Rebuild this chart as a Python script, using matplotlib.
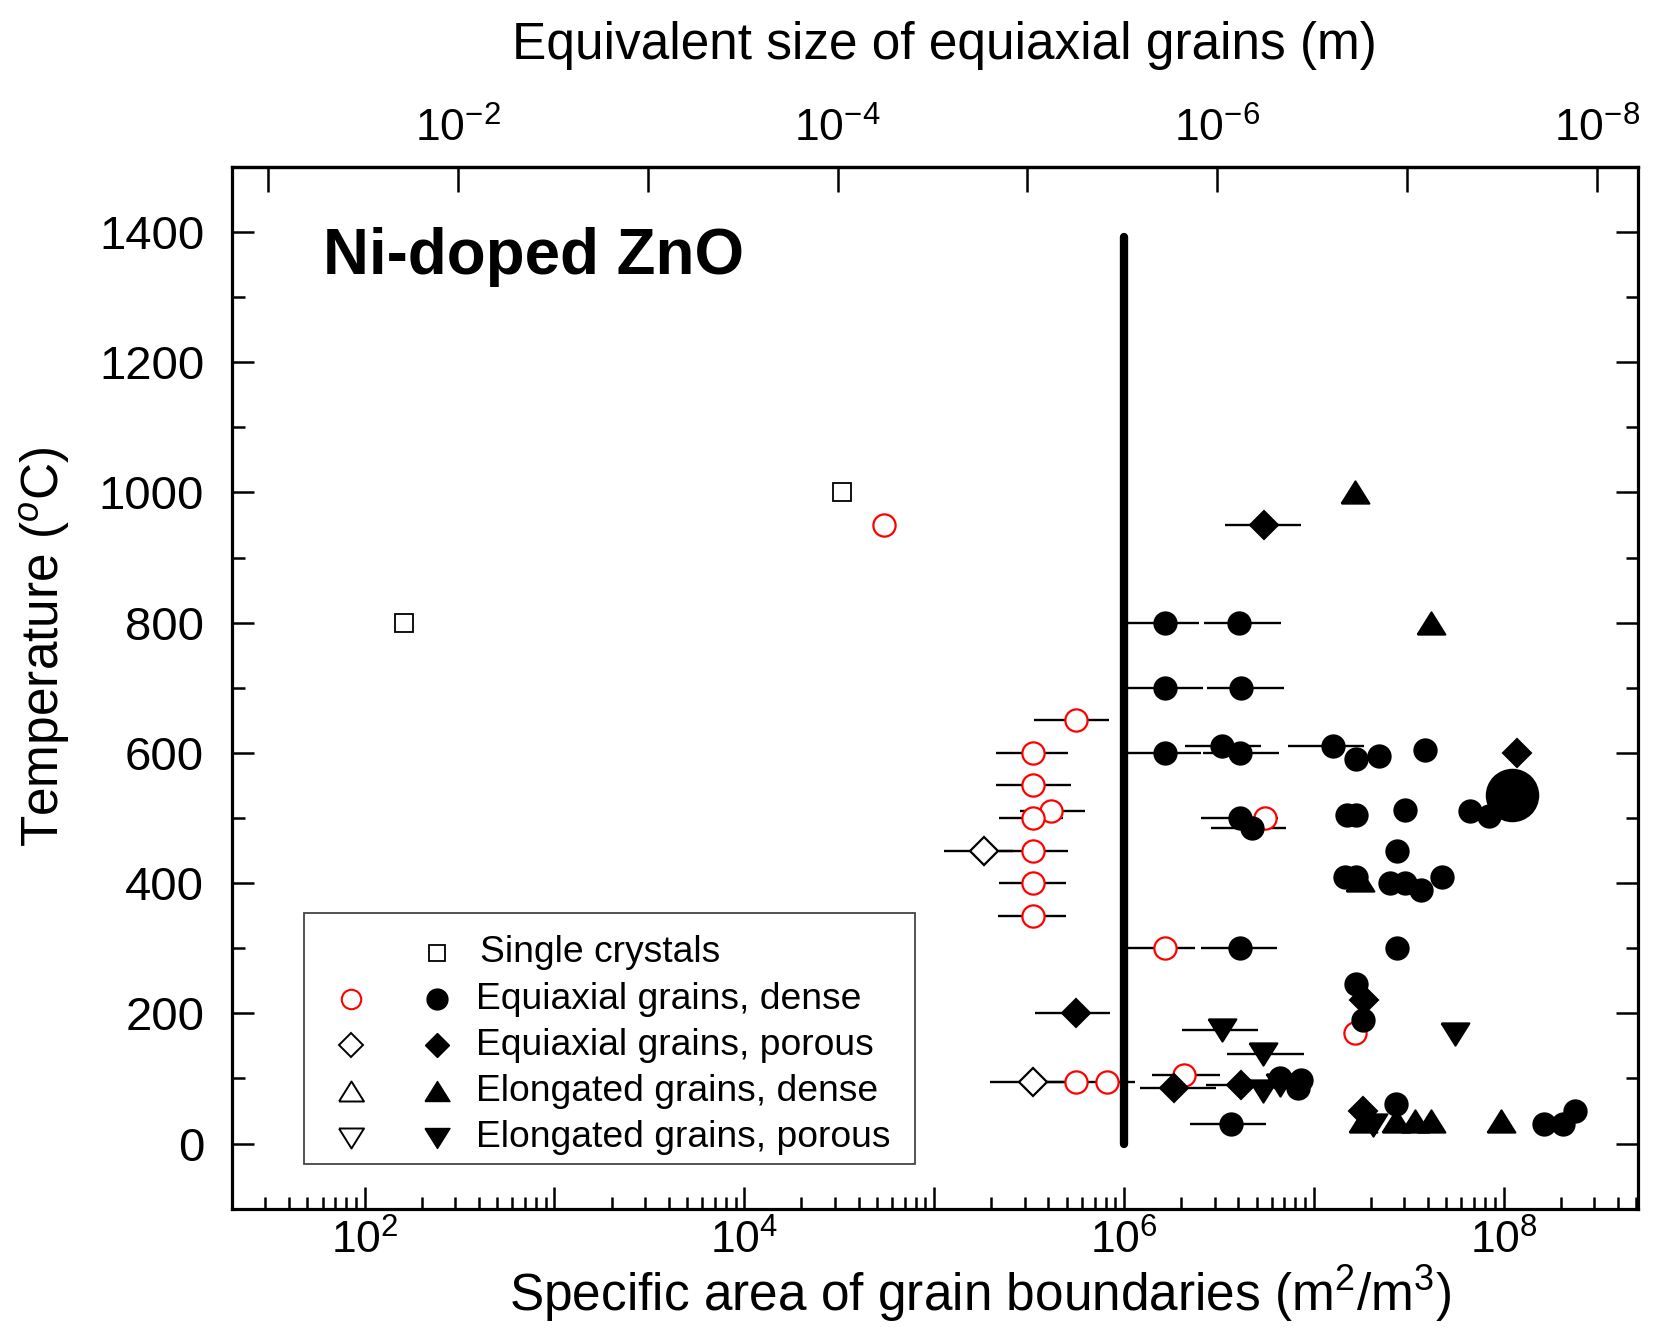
import matplotlib
matplotlib.use("Agg")
import matplotlib.pyplot as plt
import numpy as np
from matplotlib.patches import Rectangle
from matplotlib.ticker import FixedLocator, LogLocator, MultipleLocator, NullFormatter, NullLocator, FuncFormatter

plt.rcParams["font.family"] = ["Liberation Sans", "DejaVu Sans"]
plt.rcParams["mathtext.fontset"] = "custom"
plt.rcParams["mathtext.rm"] = "Liberation Sans"
plt.rcParams["mathtext.it"] = "Liberation Sans:italic"
plt.rcParams["mathtext.bf"] = "Liberation Sans:bold"

# S = specific area (m2/m3), T = temperature (C); lo/hi = error bar ends
single_S = [161, 3.28e4]
single_T = [800, 1000]

red_S = [5.56e5, 3.30e5, 3.30e5, 4.12e5, 3.30e5, 3.30e5, 3.30e5, 3.30e5, 1.64e6, 5.56e5, 8.15e5, 2.07e6]
red_T = [650, 600, 550, 510, 500, 450, 400, 350, 300, 95, 95, 105]
red_lo = [3.34e5, 2.13e5, 2.13e5, 2.85e5, 2.19e5, 2.19e5, 2.19e5, 2.17e5, 1.03e6, 3.74e5, 7.46e5, 1.40e6]
red_hi = [8.30e5, 5.08e5, 5.23e5, 6.22e5, 4.78e5, 5.08e5, 4.98e5, 4.94e5, 2.36e6, 7.46e5, 1.14e6, 3.20e6]
red_nb_S = [5.47e4, 5.52e6, 1.65e7]
red_nb_T = [950, 500, 170]

eqd_S = [1.64e6, 4.03e6, 1.64e6, 4.16e6, 1.64e6, 3.30e6, 4.10e6, 1.27e7, 4.10e6, 4.75e6, 4.10e6, 3.68e6]
eqd_T = [800, 800, 700, 700, 600, 610, 600, 610, 500, 485, 300, 30]
eqd_lo = [1.02e6, 2.64e6, 1.04e6, 2.74e6, 1.03e6, 2.09e6, 2.61e6, 7.31e6, 2.56e6, 2.89e6, 2.54e6, 2.24e6]
eqd_hi = [2.48e6, 6.70e6, 2.61e6, 6.93e6, 2.56e6, 5.25e6, 6.56e6, 1.85e7, 6.47e6, 7.18e6, 6.43e6, 5.62e6]
eqd_nb_S = [1.66e7, 2.20e7, 3.84e7, 6.62e7, 8.34e7, 1.49e7, 1.67e7, 3.01e7, 2.74e7, 1.46e7,
            1.67e7, 2.51e7, 3.02e7, 3.69e7, 4.73e7, 2.74e7, 1.66e7, 1.82e7, 2.72e7, 1.64e8,
            2.05e8, 2.37e8, 6.6e6, 8.3e6, 8.6e6]
eqd_nb_T = [590, 595, 605, 510, 503, 505, 505, 513, 450, 410,
            410, 400, 400, 390, 410, 300, 245, 190, 60, 30,
            30, 50, 100, 85, 97]
big_S = [1.11e8]
big_T = [535]

eqp_S = [5.47e6, 5.56e5, 1.83e6, 4.16e6]
eqp_T = [950, 200, 85, 90]
eqp_lo = [3.40e6, 3.39e5, 1.21e6, 2.69e6]
eqp_hi = [8.61e6, 8.49e5, 3.07e6, 6.31e6]
eqp_nb_S = [1.18e8, 1.85e7, 1.82e7]
eqp_nb_T = [600, 220, 50]

eqp_open_S = [1.83e5, 3.30e5]
eqp_open_T = [450, 95]
eqp_open_lo = [1.13e5, 1.96e5]
eqp_open_hi = [2.61e5, 5.06e5]

eld_S = [1.64e7, 4.13e7, 1.75e7, 1.82e7, 2.72e7, 3.40e7, 4.16e7, 9.73e7]
eld_T = [1000, 800, 405, 35, 35, 35, 35, 35]

elp_S = [3.30e6, 5.40e6]
elp_T = [175, 138]
elp_lo = [2.01e6, 3.51e6]
elp_hi = [5.08e6, 8.85e6]
elp_nb_S = [5.40e6, 6.6e6, 5.52e7, 2.05e7]
elp_nb_T = [80, 90, 168, 28]

legend_labels = ["Single crystals", "Equiaxial grains, dense", "Equiaxial grains, porous",
                 "Elongated grains, dense", "Elongated grains, porous"]

C_SIZE = 3.1  # S = C / d

UP = [(-1, -0.8), (1, -0.8), (0, 0.8), (-1, -0.8)]
DOWN = [(-1, 0.8), (1, 0.8), (0, -0.8), (-1, 0.8)]

fig = plt.figure(figsize=(16.59, 13.42), dpi=100)
ax = fig.add_axes([0.1398, 0.0994, 0.8475, 0.7762])


def bars(S, T, lo, hi):
    S = np.asarray(S, float)
    xerr = [S - np.asarray(lo), np.asarray(hi) - S]
    ax.errorbar(S, T, xerr=xerr, fmt="none", ecolor="black", elinewidth=1.7, capsize=0, zorder=3)


def pts(S, T, marker, ms, mfc, mec, mew=1.5, z=4):
    ax.plot(S, T, ls="none", marker=marker, ms=ms, mfc=mfc, mec=mec, mew=mew, zorder=z)


ax.plot([1e6, 1e6], [0, 1392], color="black", lw=6, solid_capstyle="round", zorder=2)

bars(red_S, red_T, red_lo, red_hi)
bars(eqd_S, eqd_T, eqd_lo, eqd_hi)
bars(eqp_S, eqp_T, eqp_lo, eqp_hi)
bars(eqp_open_S, eqp_open_T, eqp_open_lo, eqp_open_hi)
bars(elp_S, elp_T, elp_lo, elp_hi)

pts(single_S, single_T, "s", 13, "white", "black", 1.3)
pts(red_S, red_T, "o", 16, "white", "red", 1.6)
pts(red_nb_S, red_nb_T, "o", 16, "white", "red", 1.6)
pts(eqd_S, eqd_T, "o", 16, "black", "black")
pts(eqd_nb_S, eqd_nb_T, "o", 16, "black", "black")
pts(big_S, big_T, "o", 37, "black", "black")
pts(eqp_S, eqp_T, "D", 14.5, "black", "black")
pts(eqp_nb_S, eqp_nb_T, "D", 14.5, "black", "black")
pts(eqp_open_S, eqp_open_T, "D", 14.5, "white", "black", 1.6)
pts(eld_S, eld_T, UP, 20, "black", "black")
pts(elp_S, elp_T, DOWN, 20, "black", "black")
pts(elp_nb_S, elp_nb_T, DOWN, 20, "black", "black")

ax.set_xscale("log")
ax.set_xlim(20, 5.1e8)
ax.set_ylim(-100, 1500)

ax.xaxis.set_major_locator(LogLocator(base=10, numticks=20))
ax.xaxis.set_minor_locator(LogLocator(base=10, subs=np.arange(2, 10), numticks=100))
ax.xaxis.set_minor_formatter(NullFormatter())


def even_pow(v, p):
    e = int(round(np.log10(v)))
    return r"$\mathregular{10^{%d}}$" % e if e % 2 == 0 else ""


ax.xaxis.set_major_formatter(FuncFormatter(even_pow))
ax.yaxis.set_major_locator(FixedLocator(np.arange(0, 1401, 200)))
ax.yaxis.set_minor_locator(MultipleLocator(100))
ax.yaxis.set_major_formatter(FuncFormatter(lambda v, p: "%d" % v))

ax.tick_params(which="both", direction="in", top=False, right=True, width=1.8)
ax.tick_params(which="major", length=16)
ax.tick_params(which="minor", length=9)
ax.tick_params(axis="x", labelsize=32, pad=8)
ax.tick_params(axis="y", labelsize=34, pad=20)
for sp in ax.spines.values():
    sp.set_linewidth(2.3)


def fwd(s):
    s = np.asarray(s, float)
    with np.errstate(divide="ignore"):
        return C_SIZE / s


sec = ax.secondary_xaxis("top", functions=(fwd, fwd))
sec.xaxis.set_major_locator(FixedLocator([10.0 ** -k for k in range(1, 9)]))
sec.xaxis.set_minor_locator(NullLocator())
sec.xaxis.set_major_formatter(FuncFormatter(even_pow))
sec.tick_params(direction="in", length=18, width=1.8, labelsize=32, pad=12)
sec.spines["top"].set_linewidth(2.3)
sec.set_xlabel("Equivalent size of equiaxial grains (m)", fontsize=37, labelpad=35)
sec.xaxis.label.set_x(0.507)

ax.set_xlabel(r"Specific area of grain boundaries (m$^{2}$/m$^{3}$)", fontsize=37, labelpad=0)
ax.xaxis.label.set_x(0.532)
ax.set_ylabel(r"Temperature ($^{o}$C)", fontsize=37, labelpad=19)
ax.yaxis.label.set_y(0.539)

ax.text(0.0647, 0.9136, "Ni-doped ZnO", transform=ax.transAxes, fontsize=45.8,
        fontweight="bold", va="center", ha="left")

# legend box drawn by hand: two marker columns then the text
ax.add_patch(Rectangle((0.051, 0.0426), 0.435, 0.2408, transform=ax.transAxes,
                       facecolor="white", edgecolor="#444444", lw=1.3, zorder=6))
row_y = [0.2458, 0.2012, 0.1566, 0.1128, 0.0680]
col_open, col_fill, col_text = 0.0849, 0.1458, 0.1735
kw = dict(transform=ax.transAxes, ls="none", zorder=7, clip_on=False)
ax.plot([col_fill], [row_y[0]], marker="s", ms=12, mfc="white", mec="black", mew=1.3, **kw)
ax.plot([col_open], [row_y[1]], marker="o", ms=14, mfc="white", mec="red", mew=1.5, **kw)
ax.plot([col_fill], [row_y[1]], marker="o", ms=15, mfc="black", mec="black", **kw)
ax.plot([col_open], [row_y[2]], marker="D", ms=12, mfc="white", mec="black", mew=1.4, **kw)
ax.plot([col_fill], [row_y[2]], marker="D", ms=12.5, mfc="black", mec="black", **kw)
ax.plot([col_open], [row_y[3]], marker=UP, ms=18, mfc="white", mec="black", mew=1.4, **kw)
ax.plot([col_fill], [row_y[3]], marker=UP, ms=18, mfc="black", mec="black", **kw)
ax.plot([col_open], [row_y[4]], marker=DOWN, ms=18, mfc="white", mec="black", mew=1.4, **kw)
ax.plot([col_fill], [row_y[4]], marker=DOWN, ms=18, mfc="black", mec="black", **kw)
for i, lab in enumerate(legend_labels):
    x = col_text + (0.003 if i == 0 else 0)
    ax.text(x, row_y[i], lab, transform=ax.transAxes, fontsize=26.8, va="center", ha="left", zorder=7)

fig.savefig("out.png", dpi=100)
